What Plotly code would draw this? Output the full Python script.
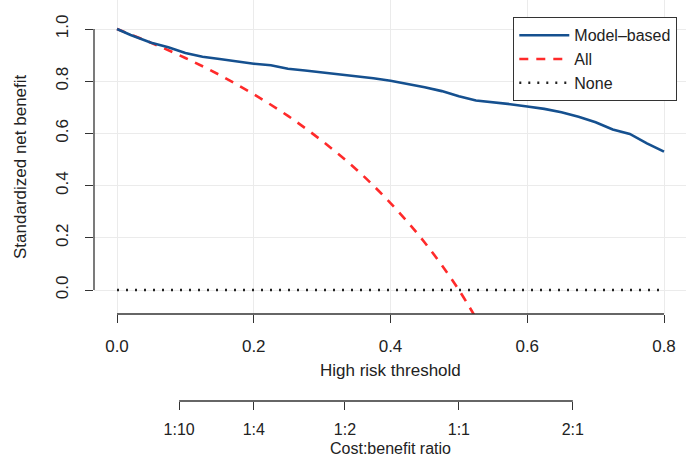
import plotly.graph_objects as go

# ---- data ----
threshold_model = [0.00, 0.02, 0.05, 0.075, 0.10, 0.125, 0.15, 0.175, 0.20, 0.225,
                   0.25, 0.275, 0.30, 0.325, 0.35, 0.375, 0.40, 0.425, 0.45, 0.475,
                   0.50, 0.525, 0.55, 0.575, 0.60, 0.625, 0.65, 0.675, 0.70, 0.725,
                   0.75, 0.775, 0.80]
snb_model = [1.000, 0.977, 0.947, 0.930, 0.908, 0.894, 0.885, 0.876, 0.867, 0.861,
             0.848, 0.841, 0.834, 0.827, 0.820, 0.811, 0.802, 0.790, 0.777, 0.762,
             0.742, 0.726, 0.720, 0.712, 0.703, 0.694, 0.681, 0.664, 0.643, 0.615,
             0.598, 0.562, 0.530]

threshold_all = [0.00, 0.05, 0.10, 0.15, 0.20, 0.25, 0.30, 0.35, 0.40, 0.45,
                 0.50, 0.55]
snb_all = [1.000, 0.947, 0.889, 0.824, 0.750, 0.667, 0.571, 0.462, 0.333, 0.182,
           0.000, -0.222]

threshold_none = [0.00, 0.80]
snb_none = [0.0, 0.0]

x_ticks = [0.0, 0.2, 0.4, 0.6, 0.8]
x_ticktext = ["0.0", "0.2", "0.4", "0.6", "0.8"]
y_ticks = [0.0, 0.2, 0.4, 0.6, 0.8, 1.0]
y_ticktext = ["0.0", "0.2", "0.4", "0.6", "0.8", "1.0"]
ratio_cost = [1, 1, 1, 1, 2]
ratio_benefit = [10, 4, 2, 1, 1]
ratio_labels = [f"{c}:{b}" for c, b in zip(ratio_cost, ratio_benefit)]
ratio_ticks = [c / (c + b) for c, b in zip(ratio_cost, ratio_benefit)]

# ---- styling ----
W, H = 686, 457
FONT = "Liberation Sans, Arial, sans-serif"
FS = 17
FS2 = 16
AX = "#333333"
BLUE = "#15508f"
RED = "#ff2a2a"

ml, mr, mt, mb = 94, 0, 0, 0
plot_h = H - mt - mb
plot_w = W - ml - mr
ydom_bottom = (H - 314) / plot_h
ax2_pos = (H - 401) / plot_h
xrange = [(ml - 117) / 683.75, (W - 117) / 683.75]

fig = go.Figure()
fig.add_trace(go.Scatter(x=threshold_all, y=snb_all, mode="lines", name="All",
                         line=dict(color=RED, width=2.6, dash="9px,8px", shape="spline"),
                         legendrank=2))
fig.add_trace(go.Scatter(x=threshold_none, y=snb_none, mode="lines", name="None",
                         line=dict(color="#222222", width=2.6, dash="2px,7px"),
                         legendrank=3))
fig.add_trace(go.Scatter(x=threshold_model, y=snb_model, mode="lines", name="Model\u2013based",
                         line=dict(color=BLUE, width=2.6), legendrank=1))
# invisible trace to create the secondary (cost:benefit) axis
fig.add_trace(go.Scatter(x=[ratio_ticks[0]], y=[0], xaxis="x2", mode="markers",
                         marker=dict(opacity=0), showlegend=False, hoverinfo="skip"))

fig.update_layout(
    width=W, height=H,
    margin=dict(l=ml, r=mr, t=mt, b=mb),
    paper_bgcolor="white", plot_bgcolor="white",
    font=dict(family=FONT, size=FS, color="#222222"),
    showlegend=True,
    legend=dict(x=(513 - ml) / plot_w, y=1 - 17 / plot_h, xanchor="left", yanchor="top",
                bgcolor="white", bordercolor=AX, borderwidth=1.3,
                font=dict(family=FONT, size=16, color="#222222"),
                traceorder="normal", itemwidth=50),
    xaxis=dict(range=xrange, domain=[0, 1],
               anchor="y", tickvals=x_ticks, ticktext=x_ticktext,
               showgrid=True, gridcolor="#ebebeb", gridwidth=1.2,
               zeroline=False, showline=False,
               ticks="outside", ticklen=8, tickwidth=1.3, tickcolor=AX,
               ticklabelstandoff=9, tickfont=dict(size=FS)),
    xaxis2=dict(range=xrange, overlaying="x",
                anchor="free", position=ax2_pos, side="bottom",
                tickvals=ratio_ticks, ticktext=ratio_labels,
                showgrid=False, zeroline=False, showline=False,
                ticks="outside", ticklen=8, tickwidth=1.3, tickcolor=AX,
                ticklabelstandoff=6, tickfont=dict(size=FS2)),
    yaxis=dict(range=[-(314 - 290) / 261, 1 + 29 / 261], domain=[ydom_bottom, 1],
               tickvals=y_ticks, ticktext=y_ticktext, tickangle=-90,
               showgrid=True, gridcolor="#ebebeb", gridwidth=1.2,
               zeroline=False, showline=False,
               ticks="outside", ticklen=8, tickwidth=1.3, tickcolor=AX,
               ticklabelstandoff=10, tickfont=dict(size=FS)),
)

# R-style axis lines spanning only the tick range
fig.add_shape(type="line", xref="x", yref="y domain", x0=min(x_ticks), x1=max(x_ticks),
              y0=0, y1=0, line=dict(color=AX, width=1.3), layer="above")
fig.add_shape(type="line", xref="x domain", yref="y", x0=0, x1=0,
              y0=min(y_ticks), y1=max(y_ticks), line=dict(color=AX, width=1.3), layer="above")
fig.add_shape(type="line", xref="x", yref="paper", x0=min(ratio_ticks), x1=max(ratio_ticks),
              y0=ax2_pos, y1=ax2_pos, line=dict(color=AX, width=1.3), layer="above")

# axis titles
fig.add_annotation(text="High risk threshold", xref="paper", yref="paper",
                   x=(390 - ml) / plot_w, y=(H - 370) / plot_h,
                   showarrow=False, xanchor="center", yanchor="middle", font=dict(size=FS))
fig.add_annotation(text="Cost:benefit ratio", xref="paper", yref="paper",
                   x=(390 - ml) / plot_w, y=(H - 448) / plot_h,
                   showarrow=False, xanchor="center", yanchor="middle", font=dict(size=FS2))
fig.add_annotation(text="Standardized net benefit", xref="paper", yref="paper",
                   x=(20 - ml) / plot_w, y=(H - 167) / plot_h, textangle=-90,
                   showarrow=False, xanchor="center", yanchor="middle", font=dict(size=FS))

fig.write_html("out.html", config={"displayModeBar": False},
               post_script="document.body.style.margin='0px';document.body.style.padding='0px';")
